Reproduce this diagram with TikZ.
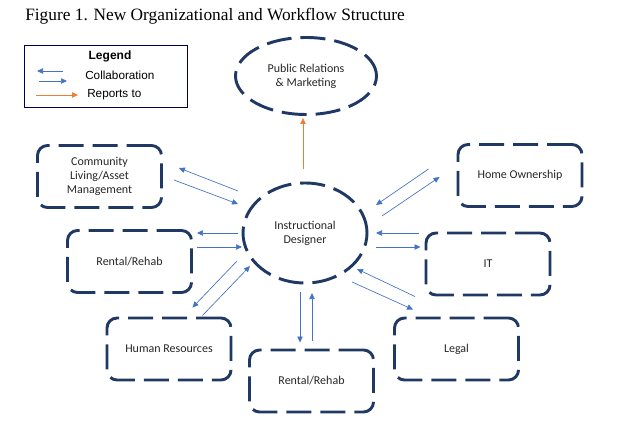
\documentclass[tikz,border=0pt]{standalone}
\usepackage{fontspec}
\setmainfont{Liberation Serif}
\newfontfamily\unitfont{Carlito}
\newfontfamily\legendfont{Liberation Sans}
\usetikzlibrary{arrows.meta,positioning,shapes.geometric}
\definecolor{unitnavy}{RGB}{31,56,100}
\definecolor{linkblue}{RGB}{68,114,196}
\definecolor{reportorange}{RGB}{237,125,49}
\tikzset{
  unit-box/.style={draw=unitnavy,rectangle,rounded corners=7.5pt,line width=2.2pt,dash pattern=on 18.75pt off 6.75pt,minimum width=93pt,minimum height=46.5pt,inner sep=0pt,align=center,font=\unitfont\fontsize{9}{10.5}\selectfont,text=black!85},
  unit-oval/.style={draw=unitnavy,ellipse,line width=2.2pt,dash pattern=on 18.75pt off 6.75pt,inner sep=0pt,align=center,font=\unitfont\fontsize{9}{10.5}\selectfont,text=black!85},
  collab/.style={-{Triangle[length=4.5pt,width=4pt]},line width=0.5pt,linkblue},
  reports/.style={-{Triangle[length=4.5pt,width=4pt]},line width=0.6pt,reportorange},
  legendframe/.style={draw=black!70!blue,line width=0.6pt},
  legendtext/.style={font=\legendfont\fontsize{8.8}{10}\selectfont,inner sep=0pt},
}
\begin{document}
\begin{tikzpicture}[x=0.75pt,y=-0.75pt]
  \useasboundingbox (0,0) rectangle (624,445);

  \node[anchor=base west,inner sep=0pt,font=\fontsize{13}{15}\selectfont] (title) at (25,21) {Figure 1. New Organizational and Workflow Structure};

  % LEGEND
  \draw[legendframe] (24,45) rectangle (187,107);
  \node[legendtext,font=\legendfont\bfseries\fontsize{9}{10}\selectfont] (lghead) at (110,56) {Legend};
  \node[legendtext,anchor=west] (lgcollab) at (85,75) {Collaboration};
  \node[legendtext,anchor=west] (lgrep) at (87,95) {Reports to};
  \draw[collab] ([shift={(-22,-4)}]lgcollab.west) -- ([shift={(-48,-4)}]lgcollab.west);
  \draw[collab] ([shift={(-46,6)}]lgcollab.west) -- ([shift={(-18,6)}]lgcollab.west);
  \draw[reports] ([shift={(-51,0)}]lgrep.west) -- ([shift={(-9,0)}]lgrep.west);

  % CENTRE
  \node[unit-oval,minimum width=105.75pt,minimum height=57.75pt] (pr) at (306,76) {Public Relations\\\& Marketing};
  \node[unit-oval,minimum width=93pt,minimum height=75pt] (desg) at (305,233) {Instructional\\Designer};
  \draw[reports] ([shift={(-2,-12.5)}]desg.north) -- ([shift={(-3,2)}]pr.south);

  % UNITS
  \node[unit-box] (cla)   at (99.5,176.5) {Community\\Living/Asset\\Management};
  \node[unit-box] (rentl) at (129.5,261.5) {Rental/Rehab};
  \node[unit-box] (hr)    at (169,349)    {Human Resources};
  \node[unit-box] (rentb) at (311.5,381)  {Rental/Rehab};
  \node[unit-box] (legal) at (456.5,349)  {Legal};
  \node[unit-box] (it)    at (488,264)    {IT};
  \node[unit-box] (home)  at (520,175.5)  {Home Ownership};

  % COLLABORATION
  \draw[collab] ([shift={(-67,-42)}]desg.center) -- ([shift={(16,-8.5)}]cla.east);
  \draw[collab] ([shift={(11,3.5)}]cla.east) -- ([shift={(-67,-29)}]desg.center);
  \draw[collab] ([shift={(-67,0)}]desg.center) -- ([shift={(4,-28.5)}]rentl.east);
  \draw[collab] ([shift={(4,-14.5)}]rentl.east) -- ([shift={(-63,14)}]desg.center);
  \draw[collab] ([shift={(-68,28)}]desg.center) -- ([shift={(-40,-9)}]hr.north east);
  \draw[collab] ([shift={(-30,-1)}]hr.north east) -- ([shift={(-55,33)}]desg.center);
  \draw[collab] ([shift={(-5,59)}]desg.center) -- ([shift={(-11.5,-6)}]rentb.north);
  \draw[collab] ([shift={(0.5,-8)}]rentb.north) -- ([shift={(7,60)}]desg.center);
  \draw[collab] ([shift={(47,49)}]desg.center) -- ([shift={(20,-7)}]legal.north west);
  \draw[collab] ([shift={(22,-20)}]legal.north west) -- ([shift={(52,36)}]desg.center);
  \draw[collab] ([shift={(-6,-31)}]it.west) -- ([shift={(71,0)}]desg.center);
  \draw[collab] ([shift={(71,14)}]desg.center) -- ([shift={(-4,-17)}]it.west);
  \draw[collab] ([shift={(-28,-6.5)}]home.west) -- ([shift={(71,-28)}]desg.center);
  \draw[collab] ([shift={(77,-17)}]desg.center) -- ([shift={(-17,1.5)}]home.west);

\end{tikzpicture}
\end{document}
